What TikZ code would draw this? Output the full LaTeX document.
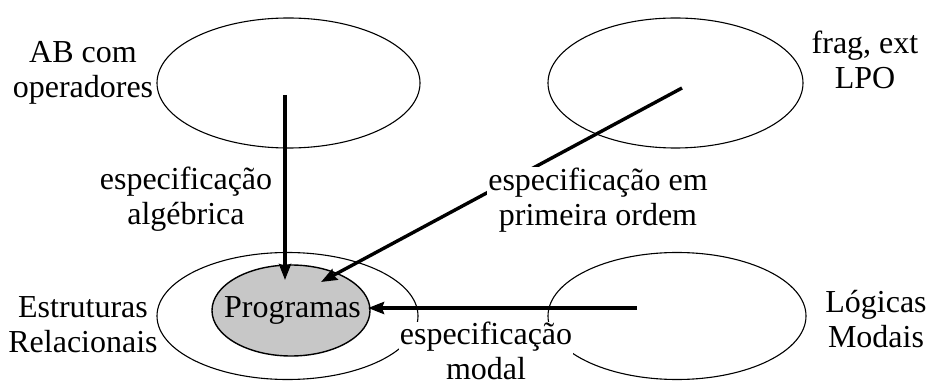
\documentclass[tikz,border=0pt]{standalone}
\usepackage{fontspec}
\setmainfont{Liberation Serif}
\usetikzlibrary{shapes.geometric,arrows.meta}
\begin{document}
\begin{tikzpicture}[x=1pt,y=-1pt,
  ell/.style={draw,ellipse,line width=1.1pt,inner sep=0pt},
  lbl/.style={align=center,inner sep=1pt,font=\fontsize{32}{35}\selectfont},
  wlbl/.style={lbl,fill=white},
  arr/.style={line width=3.4pt,-{Stealth[length=16pt,width=12pt,inset=2pt]}}]
\useasboundingbox (0,0) rectangle (934,387);
% ellipses
\node[ell,minimum width=263pt,minimum height=130pt] (tl) at (288.5,83) {};
\node[ell,minimum width=255pt,minimum height=130pt] (tr) at (675.5,83) {};
\node[ell,minimum width=261pt,minimum height=127pt] (bl) at (287.5,316) {};
\node[ell,minimum width=258pt,minimum height=127pt] (br) at (677,316) {};
\node[ell,fill=black!22,minimum width=158pt,minimum height=91pt,line width=1.4pt] (prog) at (291,310.5) {};
\node[lbl,inner sep=0pt] (progt) at (292.5,310.5) {Programas};
% arrow anchors
\coordinate (a1s) at (285,95);
\coordinate (a1e) at (285,280);
\coordinate (a2s) at (682,88);
\coordinate (a2e) at (321,282);
\coordinate (a3s) at (637,308);
\coordinate (a3e) at (368,308);
\draw[arr] (a1s) -- (a1e);
\draw[arr] (a2s) -- (a2e);
\draw[arr] (a3s) -- (a3e);
% labels
\node[lbl] (ab) at (83,72.5) {AB com\\operadores};
\node[lbl] (fr) at (865,59.5) {frag, ext\\LPO};
\node[lbl] (alg) at (186,199) {especificação\\algébrica};
\node[wlbl] (po) at (598,200) {especificação em\\primeira ordem};
\node[lbl] (er) at (83,325) {Estruturas\\Relacionais};
\node[lbl] (lm) at (876,319.5) {Lógicas\\Modais};
\node[wlbl,inner ysep=0pt] (md) at (486,350.5) {especificação\\modal};
\end{tikzpicture}
\end{document}
